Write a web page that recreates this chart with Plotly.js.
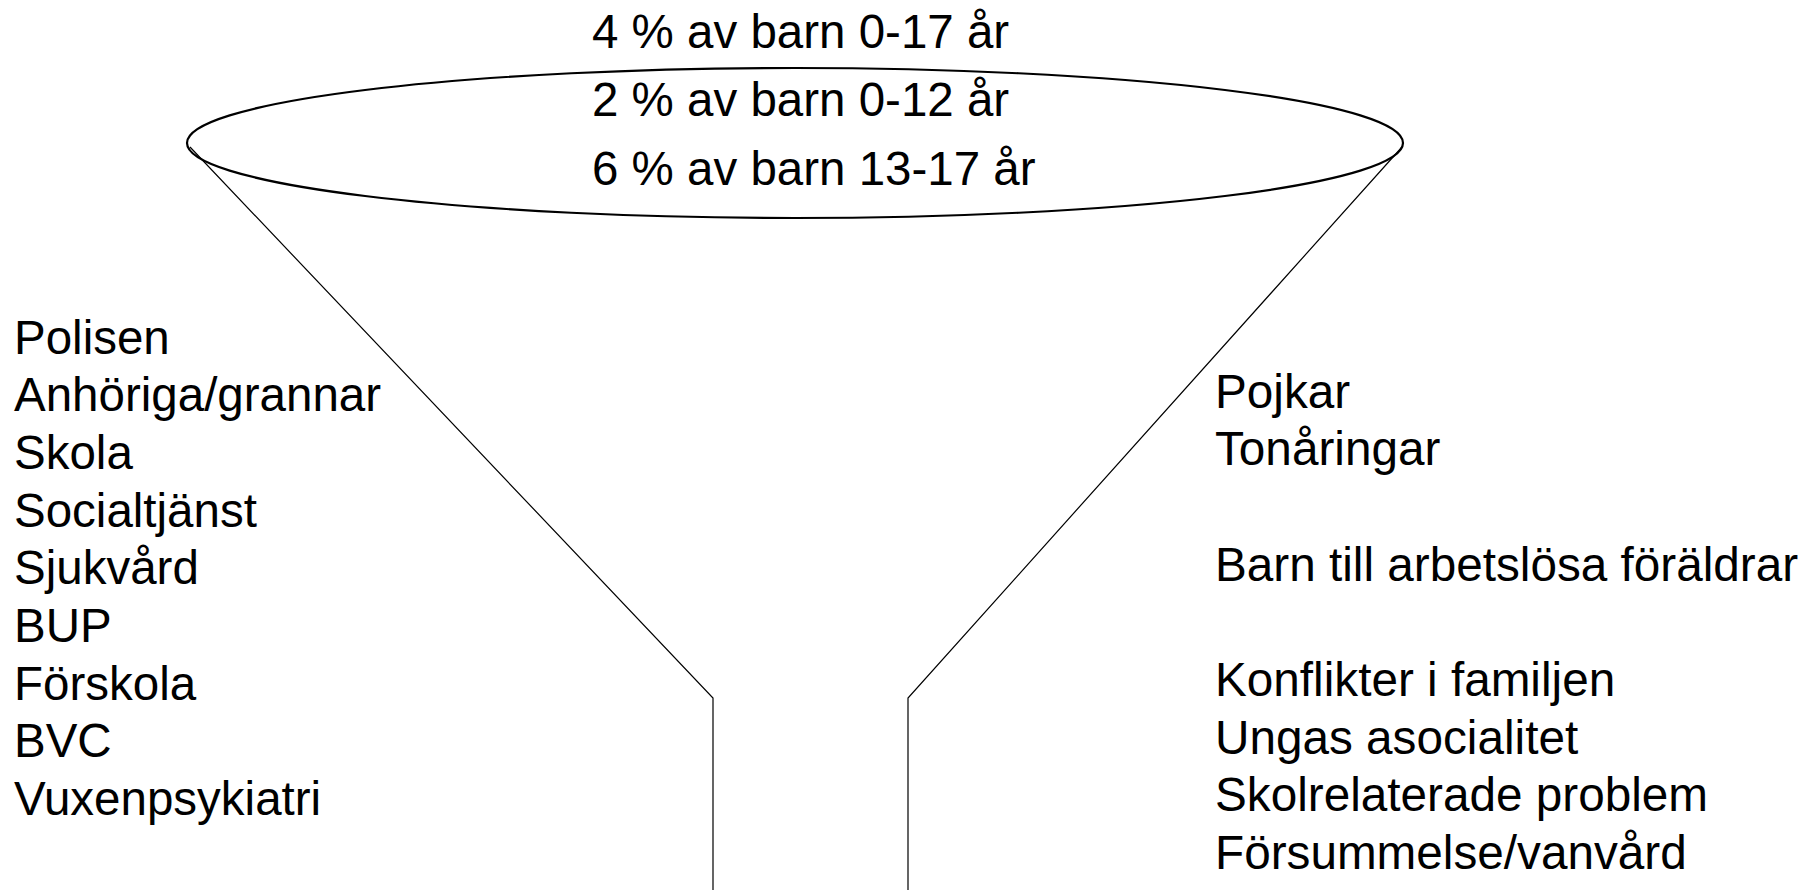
<!DOCTYPE html>
<html>
<head>
<meta charset="utf-8">
<script src="https://cdn.plot.ly/plotly-3.0.1.min.js"></script>
<style>html,body{margin:0;padding:0;background:#fff;}#chart{width:1805px;height:890px;}</style>
</head>
<body>
<div id="chart"></div>
<script>
// Text content of the funnel diagram
const topLabels = ["4 % av barn 0-17 år", "2 % av barn 0-12 år", "6 % av barn 13-17 år"];
const sourceLabels = ["Polisen", "Anhöriga/grannar", "Skola", "Socialtjänst", "Sjukvård", "BUP", "Förskola", "BVC", "Vuxenpsykiatri"];
const riskLabels = ["Pojkar", "Tonåringar", "", "Barn till arbetslösa föräldrar", "", "Konflikter i familjen", "Ungas asocialitet", "Skolrelaterade problem", "Försummelse/vanvård"];

const FAMILY = "Liberation Sans, Arial, sans-serif";
const annotations = [];
const topY = [31, 99, 168];
topLabels.forEach((t, i) => {
  annotations.push({x: 590, y: topY[i], xref: "x", yref: "y", text: t, showarrow: false,
    xanchor: "left", yanchor: "middle", font: {family: FAMILY, size: 47.5, color: "#000"}});
});
const step = 57.7;
sourceLabels.forEach((t, i) => {
  if (!t) return;
  annotations.push({x: 12, y: 337 + i * step, xref: "x", yref: "y", text: t, showarrow: false,
    xanchor: "left", yanchor: "middle", font: {family: FAMILY, size: 47.5, color: "#000"}});
});
riskLabels.forEach((t, i) => {
  if (!t) return;
  annotations.push({x: 1213, y: 391 + i * step, xref: "x", yref: "y", text: t, showarrow: false,
    xanchor: "left", yanchor: "middle", font: {family: FAMILY, size: 47.7, color: "#000"}});
});

const shapes = [
  {type: "path", xref: "x", yref: "y", path: "M190,147 L713,698 L713,890", line: {color: "#000", width: 1.2}},
  {type: "path", xref: "x", yref: "y", path: "M1402,147 L908,698 L908,890", line: {color: "#000", width: 1.2}},
  {type: "circle", xref: "x", yref: "y", x0: 187, x1: 1403, y0: 68, y1: 218, line: {color: "#000", width: 2.2}, fillcolor: "rgba(0,0,0,0)"}
];

const layout = {
  width: 1805, height: 890,
  margin: {l: 0, r: 0, t: 0, b: 0},
  paper_bgcolor: "#fff", plot_bgcolor: "#fff",
  showlegend: false,
  xaxis: {range: [0, 1805], visible: false, fixedrange: true},
  yaxis: {range: [890, 0], visible: false, fixedrange: true},
  annotations: annotations,
  shapes: shapes
};
Plotly.newPlot("chart", [{x: [], y: [], type: "scatter", mode: "lines", hoverinfo: "skip"}], layout, {staticPlot: true, displayModeBar: false});
</script>
</body>
</html>
